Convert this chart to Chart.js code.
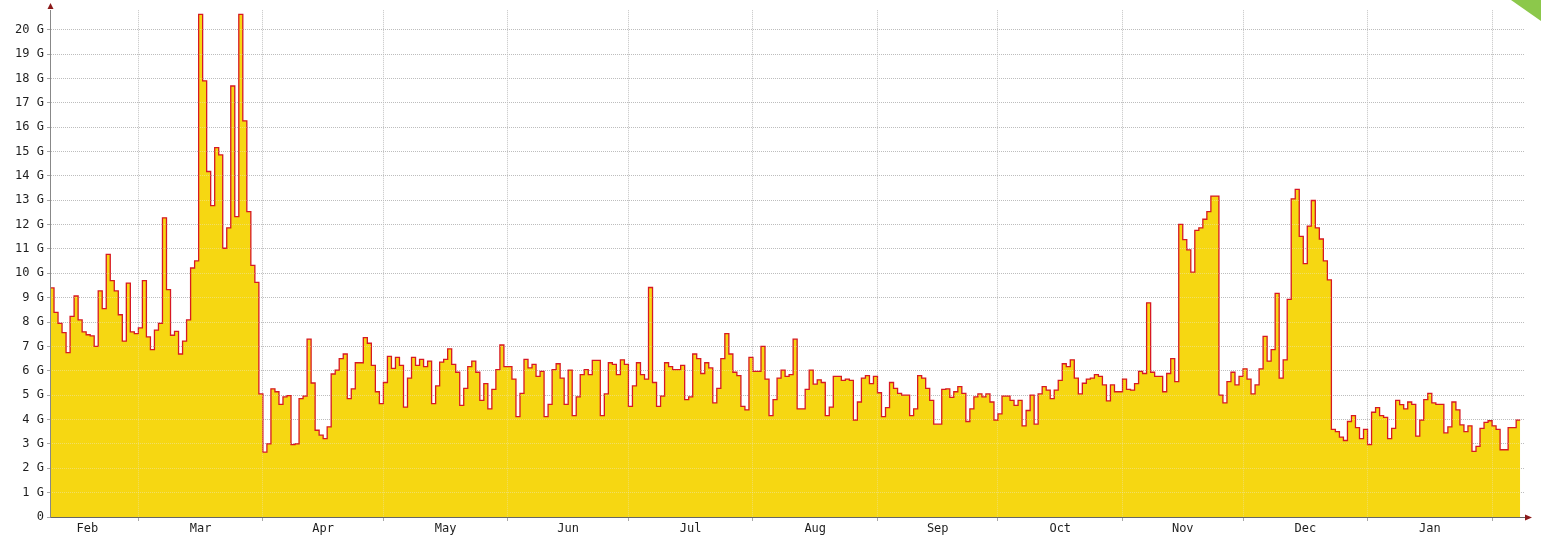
<!DOCTYPE html>
<html>
<head>
<meta charset="utf-8">
<script src="https://cdn.jsdelivr.net/npm/chart.js@4.4.1/dist/chart.umd.min.js"></script>
<style>
  html, body { margin: 0; padding: 0; background: #fff; }
</style>
</head>
<body>
<canvas id="chart" width="1541" height="536"></canvas>
<script>
// daily values in G, one array per calendar month (day 0 = first day shown)
const febA = [9.4, 8.4, 7.95, 7.57, 6.75, 8.23, 9.07, 8.09, 7.6, 7.48, 7.43, 7.0, 9.28, 8.55, 10.78, 9.7, 9.28, 8.3, 7.22, 9.6, 7.6, 7.53];
const mar = [7.76, 9.7, 7.39, 6.87, 7.67, 7.95, 12.28, 9.33, 7.46, 7.62, 6.69, 7.22, 8.09, 10.22, 10.51, 20.63, 17.9, 14.18, 12.78, 15.16, 14.86, 11.03, 11.87, 17.69, 12.33, 20.63, 16.26, 12.53, 10.33, 9.63, 5.05];
const apr = [2.66, 3.0, 5.26, 5.14, 4.62, 4.93, 4.98, 2.97, 3.0, 4.86, 4.96, 7.3, 5.5, 3.56, 3.36, 3.22, 3.7, 5.87, 6.03, 6.5, 6.69, 4.86, 5.26, 6.33, 6.33, 7.36, 7.13, 6.22, 5.14, 4.65];
const may = [5.52, 6.59, 6.1, 6.55, 6.22, 4.51, 5.7, 6.55, 6.22, 6.47, 6.17, 6.4, 4.65, 5.38, 6.36, 6.47, 6.9, 6.26, 5.94, 4.58, 5.28, 6.17, 6.4, 5.94, 4.79, 5.47, 4.44, 5.24, 6.05, 7.06, 6.17];
const jun = [6.17, 5.66, 4.12, 5.07, 6.47, 6.12, 6.26, 5.77, 5.98, 4.12, 4.62, 6.05, 6.29, 5.7, 4.62, 6.03, 4.16, 4.93, 5.84, 6.05, 5.84, 6.43, 6.43, 4.16, 5.05, 6.33, 6.26, 5.84, 6.45, 6.26];
const jul = [4.54, 5.38, 6.33, 5.84, 5.66, 9.42, 5.52, 4.54, 4.96, 6.33, 6.17, 6.05, 6.05, 6.22, 4.82, 4.93, 6.69, 6.5, 5.89, 6.33, 6.12, 4.68, 5.28, 6.5, 7.53, 6.69, 5.94, 5.8, 4.54, 4.4, 6.55];
const aug = [5.98, 5.98, 7.0, 5.66, 4.16, 4.82, 5.7, 6.03, 5.77, 5.84, 7.3, 4.44, 4.44, 5.24, 6.03, 5.45, 5.63, 5.52, 4.16, 4.51, 5.77, 5.77, 5.61, 5.66, 5.61, 3.98, 4.72, 5.7, 5.8, 5.47, 5.77];
const sep = [5.1, 4.12, 4.49, 5.52, 5.28, 5.07, 5.0, 5.0, 4.16, 4.44, 5.8, 5.7, 5.28, 4.79, 3.81, 3.81, 5.24, 5.26, 4.91, 5.14, 5.35, 5.07, 3.92, 4.44, 4.93, 5.05, 4.93, 5.05, 4.72, 3.98];
const oct = [4.23, 4.96, 4.96, 4.79, 4.58, 4.79, 3.74, 4.37, 5.0, 3.81, 5.05, 5.35, 5.21, 4.86, 5.21, 5.61, 6.29, 6.17, 6.45, 5.7, 5.05, 5.49, 5.66, 5.7, 5.84, 5.77, 5.42, 4.77, 5.42, 5.14, 5.14];
const nov = [5.66, 5.24, 5.21, 5.47, 5.98, 5.89, 8.79, 5.94, 5.77, 5.77, 5.14, 5.89, 6.5, 5.56, 12.01, 11.38, 10.96, 10.05, 11.76, 11.87, 12.22, 12.53, 13.17, 13.17, 5.0, 4.68, 5.56, 5.94, 5.42, 5.77];
const dec = [6.08, 5.66, 5.05, 5.42, 6.08, 7.41, 6.4, 6.87, 9.18, 5.7, 6.45, 8.93, 13.06, 13.45, 11.52, 10.4, 11.94, 12.99, 11.87, 11.41, 10.51, 9.73, 3.6, 3.5, 3.28, 3.14, 3.92, 4.16, 3.67, 3.22, 3.6];
const jan = [2.97, 4.3, 4.49, 4.16, 4.09, 3.22, 3.64, 4.79, 4.61, 4.44, 4.72, 4.62, 3.32, 3.98, 4.82, 5.07, 4.68, 4.62, 4.62, 3.45, 3.7, 4.72, 4.4, 3.78, 3.5, 3.74, 2.69, 2.9, 3.64, 3.88, 3.95];
const febB = [3.74, 3.6, 2.76, 2.76, 3.67, 3.67, 3.98];

// month boundaries (day index) and month label positions
const monthStartDays = [22, 53, 83, 114, 144, 175, 206, 236, 267, 297, 328, 359];
const monthLabels = ['Feb', 'Mar', 'Apr', 'May', 'Jun', 'Jul', 'Aug', 'Sep', 'Oct', 'Nov', 'Dec', 'Jan'];
const monthLabelDays = [9.3, 37.5, 68, 98.5, 129, 159.5, 190.5, 221, 251.5, 282, 312.5, 343.5];
const yTickValues = [];
for (let v = 0; v <= 20.5; v += 0.5) yTickValues.push(v);

const values = [].concat(febA, mar, apr, may, jun, jul, aug, sep, oct, nov, dec, jan, febB);
const points = values.map((v, i) => ({ x: i, y: v }));
points.push({ x: values.length, y: values[values.length - 1] }); // close last step

const monoFont = { family: 'DejaVu Sans Mono', size: 12 };
const align = p => Math.round(p - 0.5) + 0.5;

// grid seen through the yellow area is lighter than on the white canvas
const gridOverFill = {
    id: 'gridOverFill',
    afterDatasetsDraw(chart) {
        const { ctx, chartArea: a, scales: { x, y } } = chart;
        const pts = chart.getDatasetMeta(0).data;
        ctx.save();
        ctx.beginPath();
        ctx.moveTo(pts[0].x, a.bottom);
        pts.forEach((p, i) => {
            ctx.lineTo(p.x, p.y + 1);
            if (i < pts.length - 1) ctx.lineTo(pts[i + 1].x, p.y + 1);
        });
        ctx.lineTo(pts[pts.length - 1].x, a.bottom);
        ctx.closePath();
        ctx.clip();
        ctx.setLineDash([1, 1]);
        ctx.lineWidth = 1;
        y.ticks.forEach(t => {
            const py = align(y.getPixelForValue(t.value));
            ctx.strokeStyle = t.value % 1 === 0 ? 'rgba(235,235,235,0.38)' : 'rgba(235,235,235,0.2)';
            ctx.beginPath();
            ctx.moveTo(a.left, py);
            ctx.lineTo(a.right, py);
            ctx.stroke();
        });
        ctx.strokeStyle = 'rgba(235,235,235,0.38)';
        monthStartDays.forEach(d => {
            const px = align(x.getPixelForValue(d));
            ctx.beginPath();
            ctx.moveTo(px, a.top);
            ctx.lineTo(px, a.bottom);
            ctx.stroke();
        });
        ctx.restore();
    }
};

const decor = {
    id: 'decor',
    afterDraw(chart) {
        const { ctx, chartArea: a } = chart;
        ctx.save();
        ctx.fillStyle = '#8b1a1a';
        // arrow on top of y axis
        ctx.beginPath();
        ctx.moveTo(a.left + 0.5, 3);
        ctx.lineTo(a.left - 2.5, 9);
        ctx.lineTo(a.left + 3.5, 9);
        ctx.fill();
        // arrow at end of x axis
        ctx.beginPath();
        ctx.moveTo(a.right + 7, a.bottom + 0.5);
        ctx.lineTo(a.right, a.bottom - 2.5);
        ctx.lineTo(a.right, a.bottom + 3.5);
        ctx.fill();
        // green corner
        ctx.fillStyle = '#8cc84b';
        ctx.beginPath();
        ctx.moveTo(chart.width - 30, 0);
        ctx.lineTo(chart.width, 0);
        ctx.lineTo(chart.width, 21);
        ctx.fill();
        ctx.restore();
    }
};

const config = {
    type: 'line',
    data: {
        datasets: [{
            data: points,
            stepped: 'before',
            fill: 'origin',
            backgroundColor: 'rgb(246,215,18)',
            borderColor: 'rgb(215,25,35)',
            borderWidth: 1.3,
            pointRadius: 0,
        }]
    },
    options: {
        responsive: false,
        animation: false,
        layout: { padding: { top: 9, right: 16, left: 0, bottom: 0 } },
        plugins: {
            legend: { display: false },
            tooltip: { enabled: false },
        },
        scales: {
            x: {
                type: 'linear',
                min: 0,
                max: 367.2,
                afterBuildTicks: s => {
                    s.ticks = monthStartDays.concat(monthLabelDays).sort((a, b) => a - b).map(v => ({ value: v }));
                },
                afterFit: s => { s.height = 19; },
                ticks: {
                    autoSkip: false,
                    maxRotation: 0,
                    padding: 1,
                    color: '#1e1e1e',
                    font: monoFont,
                    callback: v => {
                        const i = monthLabelDays.indexOf(v);
                        return i >= 0 ? monthLabels[i] : '';
                    },
                },
                grid: {
                    tickLength: 4,
                    color: c => (c.tick && monthStartDays.includes(c.tick.value)) ? '#c4c4c4' : 'rgba(0,0,0,0)',
                    tickColor: c => (c.tick && monthStartDays.includes(c.tick.value)) ? '#a8a8a8' : 'rgba(0,0,0,0)',
                },
                border: { display: true, color: '#666', z: 2, dash: [1, 1] },
            },
            y: {
                min: 0,
                max: 20.8,
                afterBuildTicks: s => { s.ticks = yTickValues.map(v => ({ value: v })); },
                afterFit: s => { s.width = 50; },
                ticks: {
                    padding: 3,
                    color: '#1e1e1e',
                    font: monoFont,
                    callback: v => (v % 1 === 0 ? (v === 0 ? '0' : v + ' G') : ''),
                },
                grid: {
                    tickLength: 3,
                    color: c => (c.tick && c.tick.value % 1 === 0) ? '#bdbdbd' : '#e4e4e4',
                    tickColor: c => (c.tick && c.tick.value % 1 === 0) ? '#a8a8a8' : 'rgba(0,0,0,0)',
                },
                border: { display: true, color: '#888', z: 2, dash: [1, 1] },
            },
        },
    },
    plugins: [gridOverFill, decor],
};

const ctx = document.getElementById('chart').getContext('2d');
const chart = new Chart(ctx, config);
</script>
</body>
</html>
